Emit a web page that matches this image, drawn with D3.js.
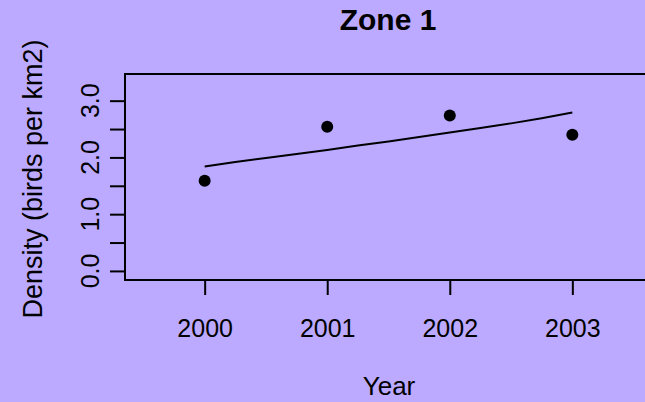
<!DOCTYPE html>
<html>
<head>
<meta charset="utf-8">
<script src="https://cdn.jsdelivr.net/npm/d3@7"></script>
<style>
  body { margin: 0; background: #bbaaff; }
  svg { display: block; font-family: "Liberation Sans", Arial, sans-serif; }
</style>
</head>
<body>
<svg id="chart" width="645" height="402"></svg>
<script>
// observed counts per year
const years = [2000, 2001, 2002, 2003];
const density = [1.59, 2.54, 2.74, 2.40];

// fitted trend, read at quarter-year steps
const trendYears = [2000, 2000.25, 2000.5, 2000.75, 2001, 2001.25, 2001.5, 2001.75,
                    2002, 2002.25, 2002.5, 2002.75, 2003];
const trendDensity = [1.84, 1.92, 1.99, 2.06, 2.13, 2.21, 2.28, 2.36,
                      2.44, 2.52, 2.60, 2.69, 2.79];

const yTicks = [0, 0.5, 1, 1.5, 2, 2.5, 3];
const yLabels = [0, 1, 2, 3];

const svg = d3.select("#chart");
const plotLeft = 125, plotRight = 652, plotTop = 74, plotBottom = 280;

let x = d3.scaleLinear().domain([1999.35, 2003.65]).range([plotLeft, plotRight]);
let y = d3.scaleLinear().domain([-0.16, 3.47]).range([plotBottom, plotTop]);

svg.append("rect")
  .attr("x", plotLeft).attr("y", plotTop)
  .attr("width", plotRight - plotLeft).attr("height", plotBottom - plotTop)
  .attr("fill", "none").attr("stroke", "black").attr("stroke-width", 2);

// x axis
let xg = svg.append("g").attr("transform", `translate(0,${plotBottom})`)
  .call(d3.axisBottom(x).tickValues(years).tickFormat(d3.format("d")).tickSize(15).tickPadding(0));
xg.select(".domain").remove();
xg.selectAll("line").attr("stroke-width", 2);
xg.selectAll("text").attr("font-size", 25).attr("fill", "black")
  .attr("dy", null).attr("y", 57);

// y axis
let yg = svg.append("g").attr("transform", `translate(${plotLeft},0)`)
  .call(d3.axisLeft(y).tickValues(yTicks).tickSize(15).tickFormat(""));
yg.select(".domain").remove();
yg.selectAll("line").attr("stroke-width", 2);

svg.selectAll(".ylab").data(yLabels).enter()
  .append("text")
  .attr("class", "ylab")
  .attr("transform", d => `translate(99,${y(d)}) rotate(-90)`)
  .attr("text-anchor", "middle")
  .attr("font-size", 25)
  .text(d3.format(".1f"));

// trend line
svg.append("path")
  .datum(trendYears.map((d, i) => [d, trendDensity[i]]))
  .attr("fill", "none").attr("stroke", "black").attr("stroke-width", 2)
  .attr("d", d3.line().x(d => x(d[0])).y(d => y(d[1])));

// points
svg.selectAll("circle").data(years).enter()
  .append("circle")
  .attr("cx", d => x(d))
  .attr("cy", (d, i) => y(density[i]))
  .attr("r", 6)
  .attr("fill", "black");

svg.append("text")
  .attr("x", 388).attr("y", 30)
  .attr("text-anchor", "middle")
  .attr("font-size", 30).attr("font-weight", "bold")
  .text("Zone 1");

svg.append("text")
  .attr("x", 389).attr("y", 395)
  .attr("text-anchor", "middle")
  .attr("font-size", 26)
  .text("Year");

svg.append("text")
  .attr("transform", "translate(42,179) rotate(-90)")
  .attr("text-anchor", "middle")
  .attr("font-size", 27)
  .text("Density (birds per km2)");
</script>
</body>
</html>
